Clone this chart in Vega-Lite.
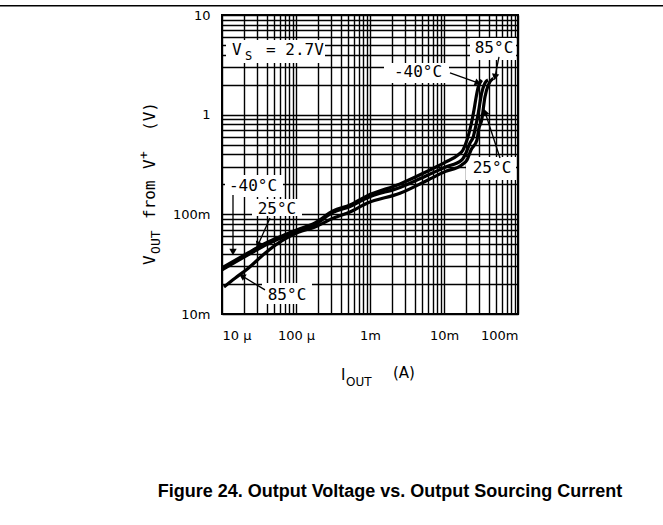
{
  "$schema": "https://vega.github.io/schema/vega-lite/v6.json",
  "width": 296,
  "height": 299,
  "autosize": {"type": "none"},
  "padding": {"left": 222, "top": 15, "right": 145, "bottom": 211},
  "background": "white",
  "title": {"text": "Figure 24. Output Voltage vs. Output Sourcing Current", "orient": "bottom", "frame": "group", "anchor": "middle", "offset": 95, "dx": 20, "font": "Liberation Sans", "fontSize": 18, "fontWeight": "bold", "color": "black"},
  "config": {
    "view": {"stroke": "black", "strokeWidth": 2},
    "axis": {"grid": true, "gridColor": "black", "gridWidth": 1.4, "gridOpacity": 1, "domain": false, "ticks": false, "tickSize": 0, "labelFont": "DejaVu Sans", "labelFontSize": 13, "labelColor": "black", "labelOverlap": false, "title": null}
  },
  "datasets": {
    "boxes": [
      {"I": 1.133e-5, "I2": 2.465e-4, "V": 5.614, "V2": 3.300},
      {"I": 0.02245, "I2": 0.09397, "V": 5.880, "V2": 3.537},
      {"I": 1.546e-3, "I2": 0.01168, "V": 3.300, "V2": 2.080},
      {"I": 0.01983, "I2": 0.09397, "V": 0.3765, "V2": 0.2213},
      {"I": 1.098e-5, "I2": 6.671e-5, "V": 0.2485, "V2": 0.1495},
      {"I": 2.543e-5, "I2": 1.205e-4, "V": 0.1427, "V2": 0.09638},
      {"I": 3.471e-5, "I2": 1.645e-4, "V": 0.02051, "V2": 0.01263}
    ],
    "curves": [
      {"T": "-40°C", "I": 1.0e-5, "V": 0.02901},
      {"T": "-40°C", "I": 2.245e-5, "V": 0.04100},
      {"T": "-40°C", "I": 3.812e-5, "V": 0.05106},
      {"T": "-40°C", "I": 6.467e-5, "V": 0.06072},
      {"T": "-40°C", "I": 1.064e-4, "V": 0.07056},
      {"T": "-40°C", "I": 1.806e-4, "V": 0.08204},
      {"T": "-40°C", "I": 3.162e-4, "V": 0.1082},
      {"T": "-40°C", "I": 5.366e-4, "V": 0.1243},
      {"T": "-40°C", "I": 9.11e-4, "V": 0.1530},
      {"T": "-40°C", "I": 2.543e-3, "V": 0.2018},
      {"T": "-40°C", "I": 6.078e-3, "V": 0.2725},
      {"T": "-40°C", "I": 0.01032, "V": 0.3317},
      {"T": "-40°C", "I": 0.01546, "V": 0.3943},
      {"T": "-40°C", "I": 0.01806, "V": 0.4425},
      {"T": "-40°C", "I": 0.02046, "V": 0.5574},
      {"T": "-40°C", "I": 0.02317, "V": 0.788},
      {"T": "-40°C", "I": 0.02543, "V": 1.115},
      {"T": "-40°C", "I": 0.02706, "V": 1.471},
      {"T": "-40°C", "I": 0.02880, "V": 1.853},
      {"T": "-40°C", "I": 0.03232, "V": 2.228},
      {"T": "25°C", "I": 1.0e-5, "V": 0.02769},
      {"T": "25°C", "I": 2.245e-5, "V": 0.03915},
      {"T": "25°C", "I": 3.812e-5, "V": 0.04876},
      {"T": "25°C", "I": 6.467e-5, "V": 0.05866},
      {"T": "25°C", "I": 1.064e-4, "V": 0.06896},
      {"T": "25°C", "I": 1.806e-4, "V": 0.07920},
      {"T": "25°C", "I": 3.162e-4, "V": 0.1045},
      {"T": "25°C", "I": 5.366e-4, "V": 0.1201},
      {"T": "25°C", "I": 9.11e-4, "V": 0.1461},
      {"T": "25°C", "I": 2.543e-3, "V": 0.1862},
      {"T": "25°C", "I": 6.078e-3, "V": 0.2485},
      {"T": "25°C", "I": 0.01032, "V": 0.2968},
      {"T": "25°C", "I": 0.01735, "V": 0.3512},
      {"T": "25°C", "I": 0.01983, "V": 0.4129},
      {"T": "25°C", "I": 0.02245, "V": 0.5201},
      {"T": "25°C", "I": 0.02488, "V": 0.6017},
      {"T": "25°C", "I": 0.02706, "V": 0.788},
      {"T": "25°C", "I": 0.02907, "V": 1.040},
      {"T": "25°C", "I": 0.03232, "V": 1.651},
      {"T": "25°C", "I": 0.03581, "V": 2.080},
      {"T": "25°C", "I": 0.03933, "V": 2.228},
      {"T": "85°C", "I": 1.064e-5, "V": 0.01870},
      {"T": "85°C", "I": 1.499e-5, "V": 0.02286},
      {"T": "85°C", "I": 2.266e-5, "V": 0.02881},
      {"T": "85°C", "I": 3.812e-5, "V": 0.04072},
      {"T": "85°C", "I": 6.408e-5, "V": 0.05409},
      {"T": "85°C", "I": 1.074e-4, "V": 0.06614},
      {"T": "85°C", "I": 1.806e-4, "V": 0.07474},
      {"T": "85°C", "I": 3.162e-4, "V": 0.09139},
      {"T": "85°C", "I": 5.366e-4, "V": 0.1057},
      {"T": "85°C", "I": 9.11e-4, "V": 0.1292},
      {"T": "85°C", "I": 2.543e-3, "V": 0.1627},
      {"T": "85°C", "I": 6.078e-3, "V": 0.2213},
      {"T": "85°C", "I": 0.01032, "V": 0.2681},
      {"T": "85°C", "I": 0.01735, "V": 0.3130},
      {"T": "85°C", "I": 0.02046, "V": 0.3512},
      {"T": "85°C", "I": 0.02317, "V": 0.4425},
      {"T": "85°C", "I": 0.02792, "V": 0.5574},
      {"T": "85°C", "I": 0.02925, "V": 0.7025},
      {"T": "85°C", "I": 0.03232, "V": 0.8849},
      {"T": "85°C", "I": 0.03581, "V": 1.515},
      {"T": "85°C", "I": 0.03970, "V": 1.986},
      {"T": "85°C", "I": 0.04638, "V": 2.318}
    ],
    "arrows": [
      {"I": 0.05535, "V": 3.790, "I2": 0.04888, "V2": 2.388, "angle": 191},
      {"I": 0.01205, "V": 2.620, "I2": 0.02880, "V2": 2.080, "angle": 110},
      {"I": 0.05713, "V": 0.3679, "I2": 0.03581, "V2": 1.064, "angle": 342},
      {"I": 1.408e-5, "V": 0.1565, "I2": 1.408e-5, "V2": 0.04196, "angle": 180},
      {"I": 4.452e-5, "V": 0.09203, "I2": 3.065e-5, "V2": 0.04932, "angle": 204},
      {"I": 3.812e-5, "V": 0.01745, "I2": 1.863e-5, "V2": 0.02411, "angle": 301}
    ],
    "labels": [
      {"I": 0.04739, "V": 4.667, "text": "85°C"},
      {"I": 4.452e-3, "V": 2.681, "text": "-40°C"},
      {"I": 0.04452, "V": 0.2920, "text": "25°C"},
      {"I": 2.624e-5, "V": 0.1927, "text": "-40°C"},
      {"I": 5.535e-5, "V": 0.1133, "text": "25°C"},
      {"I": 7.556e-5, "V": 0.01555, "text": "85°C"}
    ],
    "vsMain": [
      {"I": 1.365e-5, "V": 3.970, "text": "V"},
      {"I": 3.933e-5, "V": 3.970, "text": "= 2.7V"}
    ],
    "vsSub": [{"I": 2.046e-5, "V": 3.537, "text": "S"}],
    "yTitleMain": [
      {"I": 1.243e-6, "V": 0.03109, "text": "V"},
      {"I": 1.243e-6, "V": 0.08995, "text": "from"},
      {"I": 1.243e-6, "V": 0.2853, "text": "V"},
      {"I": 1.243e-6, "V": 0.6864, "text": "(V)"}
    ],
    "yTitleSub": [{"I": 1.453e-6, "V": 0.04007, "text": "OUT"}],
    "yTitleSup": [{"I": 1.0e-6, "V": 0.3596, "text": "+"}],
    "xTitleMain": [
      {"I": 4.056e-4, "V": 2.183e-3, "text": "I"},
      {"I": 2.045e-3, "V": 2.286e-3, "text": "(A)"}
    ],
    "xTitleSub": [{"I": 4.739e-4, "V": 1.900e-3, "text": "OUT"}],
    "topline": [{"I": 1e-8, "I2": 9.11, "V": 12.4}]
  },
  "layer": [
    {
      "data": {"name": "boxes"},
      "mark": {"type": "rect", "fill": "white", "strokeWidth": 0},
      "encoding": {
        "x": {"field": "I", "type": "quantitative", "scale": {"type": "log", "domain": [1e-5, 0.1], "nice": false},
          "axis": {"values": [1e-5, 2e-5, 3e-5, 4e-5, 5e-5, 6e-5, 7e-5, 8e-5, 9e-5, 1e-4, 2e-4, 3e-4, 4e-4, 5e-4, 6e-4, 7e-4, 8e-4, 9e-4, 0.001, 0.002, 0.003, 0.004, 0.005, 0.006, 0.007, 0.008, 0.009, 0.01, 0.02, 0.03, 0.04, 0.05, 0.06, 0.07, 0.08, 0.09, 0.1],
            "labelExpr": "datum.value == 0.00001 ? '10 μ' : datum.value == 0.0001 ? '100 μ' : datum.value == 0.001 ? '1m' : datum.value == 0.01 ? '10m' : datum.value == 0.1 ? '100m' : ''",
            "labelPadding": 15, "title": null}},
        "x2": {"field": "I2"},
        "y": {"field": "V", "type": "quantitative", "scale": {"type": "log", "domain": [0.01, 10], "nice": false},
          "axis": {"values": [0.01, 0.02, 0.03, 0.04, 0.05, 0.06, 0.07, 0.08, 0.09, 0.1, 0.2, 0.3, 0.4, 0.5, 0.6, 0.7, 0.8, 0.9, 1, 2, 3, 4, 5, 6, 7, 8, 9, 10],
            "labelExpr": "datum.value == 0.01 ? '10m' : datum.value == 0.1 ? '100m' : datum.value == 1 ? '1' : datum.value == 10 ? '10' : ''",
            "labelPadding": 12, "title": null}},
        "y2": {"field": "V2"}
      }
    },
    {
      "data": {"name": "curves"},
      "mark": {"type": "line", "color": "black", "strokeWidth": 3.2, "interpolate": "monotone"},
      "encoding": {
        "x": {"field": "I", "type": "quantitative"},
        "y": {"field": "V", "type": "quantitative"},
        "detail": {"field": "T"}
      }
    },
    {
      "data": {"name": "arrows"},
      "mark": {"type": "rule", "color": "black", "strokeWidth": 1.3},
      "encoding": {
        "x": {"field": "I", "type": "quantitative"},
        "y": {"field": "V", "type": "quantitative"},
        "x2": {"field": "I2"},
        "y2": {"field": "V2"}
      }
    },
    {
      "data": {"name": "arrows"},
      "mark": {"type": "point", "shape": "triangle-up", "filled": true, "color": "black", "size": 55, "opacity": 1},
      "encoding": {
        "x": {"field": "I2", "type": "quantitative"},
        "y": {"field": "V2", "type": "quantitative"},
        "angle": {"field": "angle", "type": "quantitative", "scale": null}
      }
    },
    {
      "data": {"name": "labels"},
      "mark": {"type": "text", "font": "DejaVu Sans Mono", "fontSize": 16, "align": "center", "baseline": "middle", "color": "black"},
      "encoding": {
        "x": {"field": "I", "type": "quantitative"},
        "y": {"field": "V", "type": "quantitative"},
        "text": {"field": "text"}
      }
    },
    {
      "data": {"name": "vsMain"},
      "mark": {"type": "text", "font": "DejaVu Sans Mono", "fontSize": 16, "align": "left", "baseline": "alphabetic", "color": "black"},
      "encoding": {
        "x": {"field": "I", "type": "quantitative"},
        "y": {"field": "V", "type": "quantitative"},
        "text": {"field": "text"}
      }
    },
    {
      "data": {"name": "vsSub"},
      "mark": {"type": "text", "font": "DejaVu Sans Mono", "fontSize": 12, "align": "left", "baseline": "alphabetic", "color": "black"},
      "encoding": {
        "x": {"field": "I", "type": "quantitative"},
        "y": {"field": "V", "type": "quantitative"},
        "text": {"field": "text"}
      }
    },
    {
      "data": {"name": "yTitleMain"},
      "mark": {"type": "text", "font": "DejaVu Sans Mono", "fontSize": 16, "angle": 270, "align": "left", "baseline": "alphabetic", "color": "black"},
      "encoding": {
        "x": {"field": "I", "type": "quantitative"},
        "y": {"field": "V", "type": "quantitative"},
        "text": {"field": "text"}
      }
    },
    {
      "data": {"name": "yTitleSub"},
      "mark": {"type": "text", "font": "DejaVu Sans Mono", "fontSize": 13, "angle": 270, "align": "left", "baseline": "alphabetic", "color": "black"},
      "encoding": {
        "x": {"field": "I", "type": "quantitative"},
        "y": {"field": "V", "type": "quantitative"},
        "text": {"field": "text"}
      }
    },
    {
      "data": {"name": "yTitleSup"},
      "mark": {"type": "text", "font": "DejaVu Sans Mono", "fontSize": 13, "angle": 270, "align": "left", "baseline": "alphabetic", "color": "black"},
      "encoding": {
        "x": {"field": "I", "type": "quantitative"},
        "y": {"field": "V", "type": "quantitative"},
        "text": {"field": "text"}
      }
    },
    {
      "data": {"name": "xTitleMain"},
      "mark": {"type": "text", "font": "DejaVu Sans", "fontSize": 15, "align": "left", "baseline": "alphabetic", "color": "black"},
      "encoding": {
        "x": {"field": "I", "type": "quantitative"},
        "y": {"field": "V", "type": "quantitative"},
        "text": {"field": "text"}
      }
    },
    {
      "data": {"name": "xTitleSub"},
      "mark": {"type": "text", "font": "DejaVu Sans", "fontSize": 12, "align": "left", "baseline": "alphabetic", "color": "black"},
      "encoding": {
        "x": {"field": "I", "type": "quantitative"},
        "y": {"field": "V", "type": "quantitative"},
        "text": {"field": "text"}
      }
    },
    {
      "data": {"name": "topline"},
      "mark": {"type": "rule", "color": "black", "strokeWidth": 1.5},
      "encoding": {
        "x": {"field": "I", "type": "quantitative"},
        "x2": {"field": "I2"},
        "y": {"field": "V", "type": "quantitative"}
      }
    }
  ]
}
